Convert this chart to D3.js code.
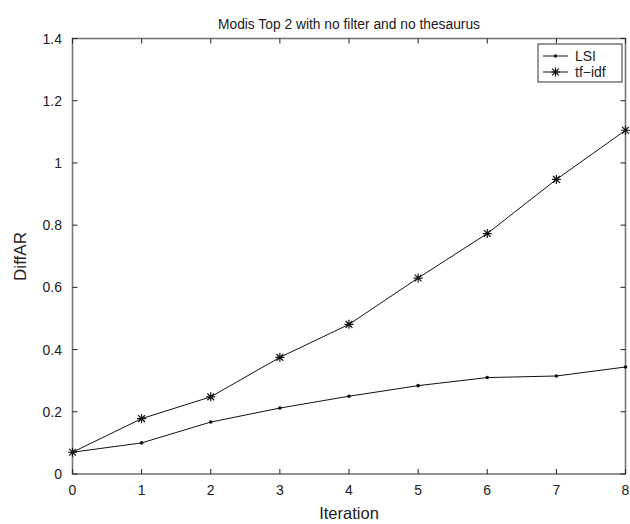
<!DOCTYPE html>
<html><head><meta charset="utf-8">
<script src="https://cdn.jsdelivr.net/npm/d3@7"></script>
<style>body{margin:0;background:#fff}svg{display:block}text{font-family:"Liberation Sans",Arial,sans-serif;fill:#222}</style>
</head><body><svg id="c" width="630" height="524"></svg>
<script>
const iterations = [0,1,2,3,4,5,6,7,8];
const lsi   = [0.07,0.10,0.167,0.212,0.25,0.284,0.31,0.315,0.344];
const tfidf = [0.07,0.178,0.248,0.375,0.481,0.630,0.773,0.947,1.105];
const xTicks = [0,1,2,3,4,5,6,7,8];
const yTicks = [0,0.2,0.4,0.6,0.8,1,1.2,1.4];
const yTickLabels = ["0","0.2","0.4","0.6","0.8","1","1.2","1.4"];

const svg = d3.select("#c");
const L=72.5, R=625.5, T=38.5, B=474;
const x = d3.scaleLinear().domain([0,8]).range([L,R]);
const y = d3.scaleLinear().domain([0,1.4]).range([B,T]);
const frame="#777";

svg.append("rect").attr("x",L).attr("y",T).attr("width",R-L).attr("height",B-T)
  .attr("fill","none").attr("stroke",frame).attr("stroke-width",1.6);

const tl=5;
xTicks.forEach(v=>{
  svg.append("line").attr("x1",x(v)).attr("x2",x(v)).attr("y1",B).attr("y2",B-tl).attr("stroke","#222");
  svg.append("line").attr("x1",x(v)).attr("x2",x(v)).attr("y1",T).attr("y2",T+tl).attr("stroke","#222");
  svg.append("text").attr("x",x(v)).attr("y",B+21).attr("text-anchor","middle").attr("font-size",14).text(v);
});
yTicks.forEach((v,i)=>{
  svg.append("line").attr("x1",L).attr("x2",L+tl).attr("y1",y(v)).attr("y2",y(v)).attr("stroke","#222");
  svg.append("line").attr("x1",R).attr("x2",R-tl).attr("y1",y(v)).attr("y2",y(v)).attr("stroke","#222");
  svg.append("text").attr("x",L-10.5).attr("y",y(v)+5).attr("text-anchor","end").attr("font-size",14).text(yTickLabels[i]);
});

svg.append("text").attr("x",349).attr("y",29).attr("text-anchor","middle").attr("font-size",13.8).text("Modis Top 2 with no filter and no thesaurus");
svg.append("text").attr("x",349).attr("y",519).attr("text-anchor","middle").attr("font-size",16.5).text("Iteration");
svg.append("text").attr("transform","translate(26,256.5) rotate(-90)").attr("text-anchor","middle").attr("font-size",17).text("DiffAR");

const line = d3.line().x((d,i)=>x(iterations[i])).y(d=>y(d));
svg.append("path").datum(lsi).attr("d",line).attr("fill","none").attr("stroke","#111").attr("stroke-width",1);
svg.append("path").datum(tfidf).attr("d",line).attr("fill","none").attr("stroke","#111").attr("stroke-width",1);

function star(g,cx,cy,s){
  const p=`M${cx-s},${cy}H${cx+s}M${cx},${cy-s}V${cy+s}M${cx-s*0.75},${cy-s*0.75}L${cx+s*0.75},${cy+s*0.75}M${cx-s*0.75},${cy+s*0.75}L${cx+s*0.75},${cy-s*0.75}`;
  g.append("path").attr("d",p).attr("stroke","#111").attr("stroke-width",1.2).attr("fill","none");
}
lsi.forEach((d,i)=>svg.append("circle").attr("cx",x(iterations[i])).attr("cy",y(d)).attr("r",1.8).attr("fill","#111"));
tfidf.forEach((d,i)=>star(svg,x(iterations[i]),y(d),4.5));

svg.append("rect").attr("x",538).attr("y",44).attr("width",84).attr("height",38).attr("fill","#fff").attr("stroke","#333").attr("stroke-width",1);
svg.append("line").attr("x1",543).attr("x2",568).attr("y1",56).attr("y2",56).attr("stroke","#111");
svg.append("circle").attr("cx",555.5).attr("cy",56).attr("r",1.8).attr("fill","#111");
svg.append("text").attr("x",575).attr("y",61).attr("font-size",14).text("LSI");
svg.append("line").attr("x1",543).attr("x2",568).attr("y1",72).attr("y2",72).attr("stroke","#111");
star(svg,555.5,72,4.5);
svg.append("text").attr("x",575).attr("y",77).attr("font-size",14).text("tf\u2212idf");
</script></body></html>
